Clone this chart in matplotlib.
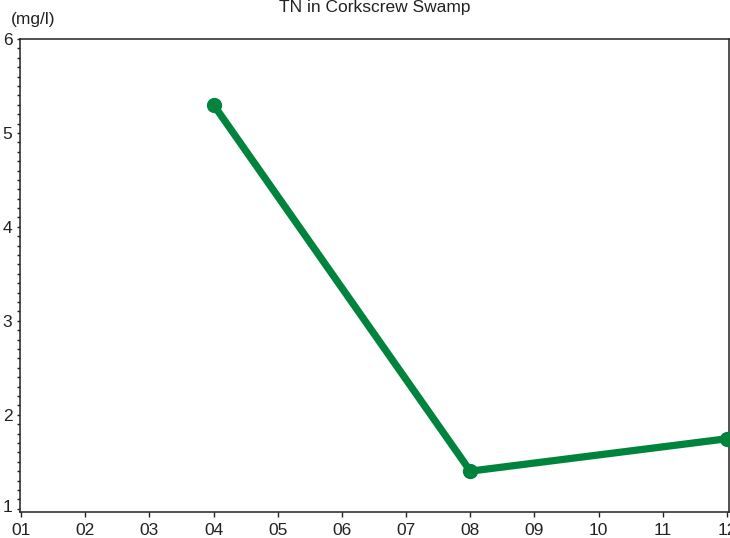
import matplotlib
matplotlib.use("Agg")
import matplotlib.pyplot as plt
from matplotlib.ticker import MultipleLocator
import matplotlib.transforms as mtransforms

plt.rcParams['font.family'] = ['Liberation Sans', 'DejaVu Sans']

months = [4, 8, 12]
values = [5.30, 1.40, 1.745]
tick_months = list(range(1, 13))
tick_labels = ["01", "02", "03", "04", "05", "06", "07", "08", "09", "10", "11", "12"]
y_ticks = [1, 2, 3, 4, 5, 6]
title = "TN in Corkscrew Swamp"
unit = "(mg/l)"

W, H = 730, 538
fig = plt.figure(figsize=(W / 100, H / 100), dpi=100)
L, R, T, B = 20, 729, 39, 512
ax = fig.add_axes([L / W, (H - B) / H, (R - L) / W, (B - T) / H])

green = '#00843D'
ax.plot(months, values, color=green, linewidth=5.2, marker='o', markersize=10,
        solid_capstyle='round', zorder=3)

ax.set_xlim(0.985, 12.03)
ax.set_ylim(0.965, 6.0)
ax.set_xticks(tick_months)
ax.set_xticklabels(tick_labels, fontsize=12.5)
ax.set_yticks(y_ticks)
ax.set_yticklabels([str(v) for v in y_ticks], fontsize=12.5)
ax.yaxis.set_minor_locator(MultipleLocator(0.1))

for s in ['left', 'bottom', 'top', 'right']:
    ax.spines[s].set_linewidth(1.1)
    ax.spines[s].set_color('#222222')

ax.tick_params(axis='x', which='major', direction='out', length=3.5, width=1.0,
               pad=4.5, colors='#222222', labelcolor='#222222')
ax.tick_params(axis='y', which='major', direction='out', length=2.5, width=1.0,
               pad=3, colors='#222222', labelcolor='#222222')
ax.tick_params(axis='y', which='minor', direction='out', length=2.5, width=1.0,
               colors='#222222')

# shift the "1" label up slightly as in the reference
offset = mtransforms.ScaledTranslation(0, 3 / 100, fig.dpi_scale_trans)
lbl = ax.get_yticklabels()[0]
lbl.set_transform(lbl.get_transform() + offset)

fig.text((L + R) / 2 / W, 1 - 12 / H, title, ha='center', va='baseline',
         fontsize=12.5, color='#222222')
fig.text(11 / W, 1 - 24 / H, unit, ha='left', va='baseline',
         fontsize=12.5, color='#222222')

fig.savefig('out.png', dpi=100)
